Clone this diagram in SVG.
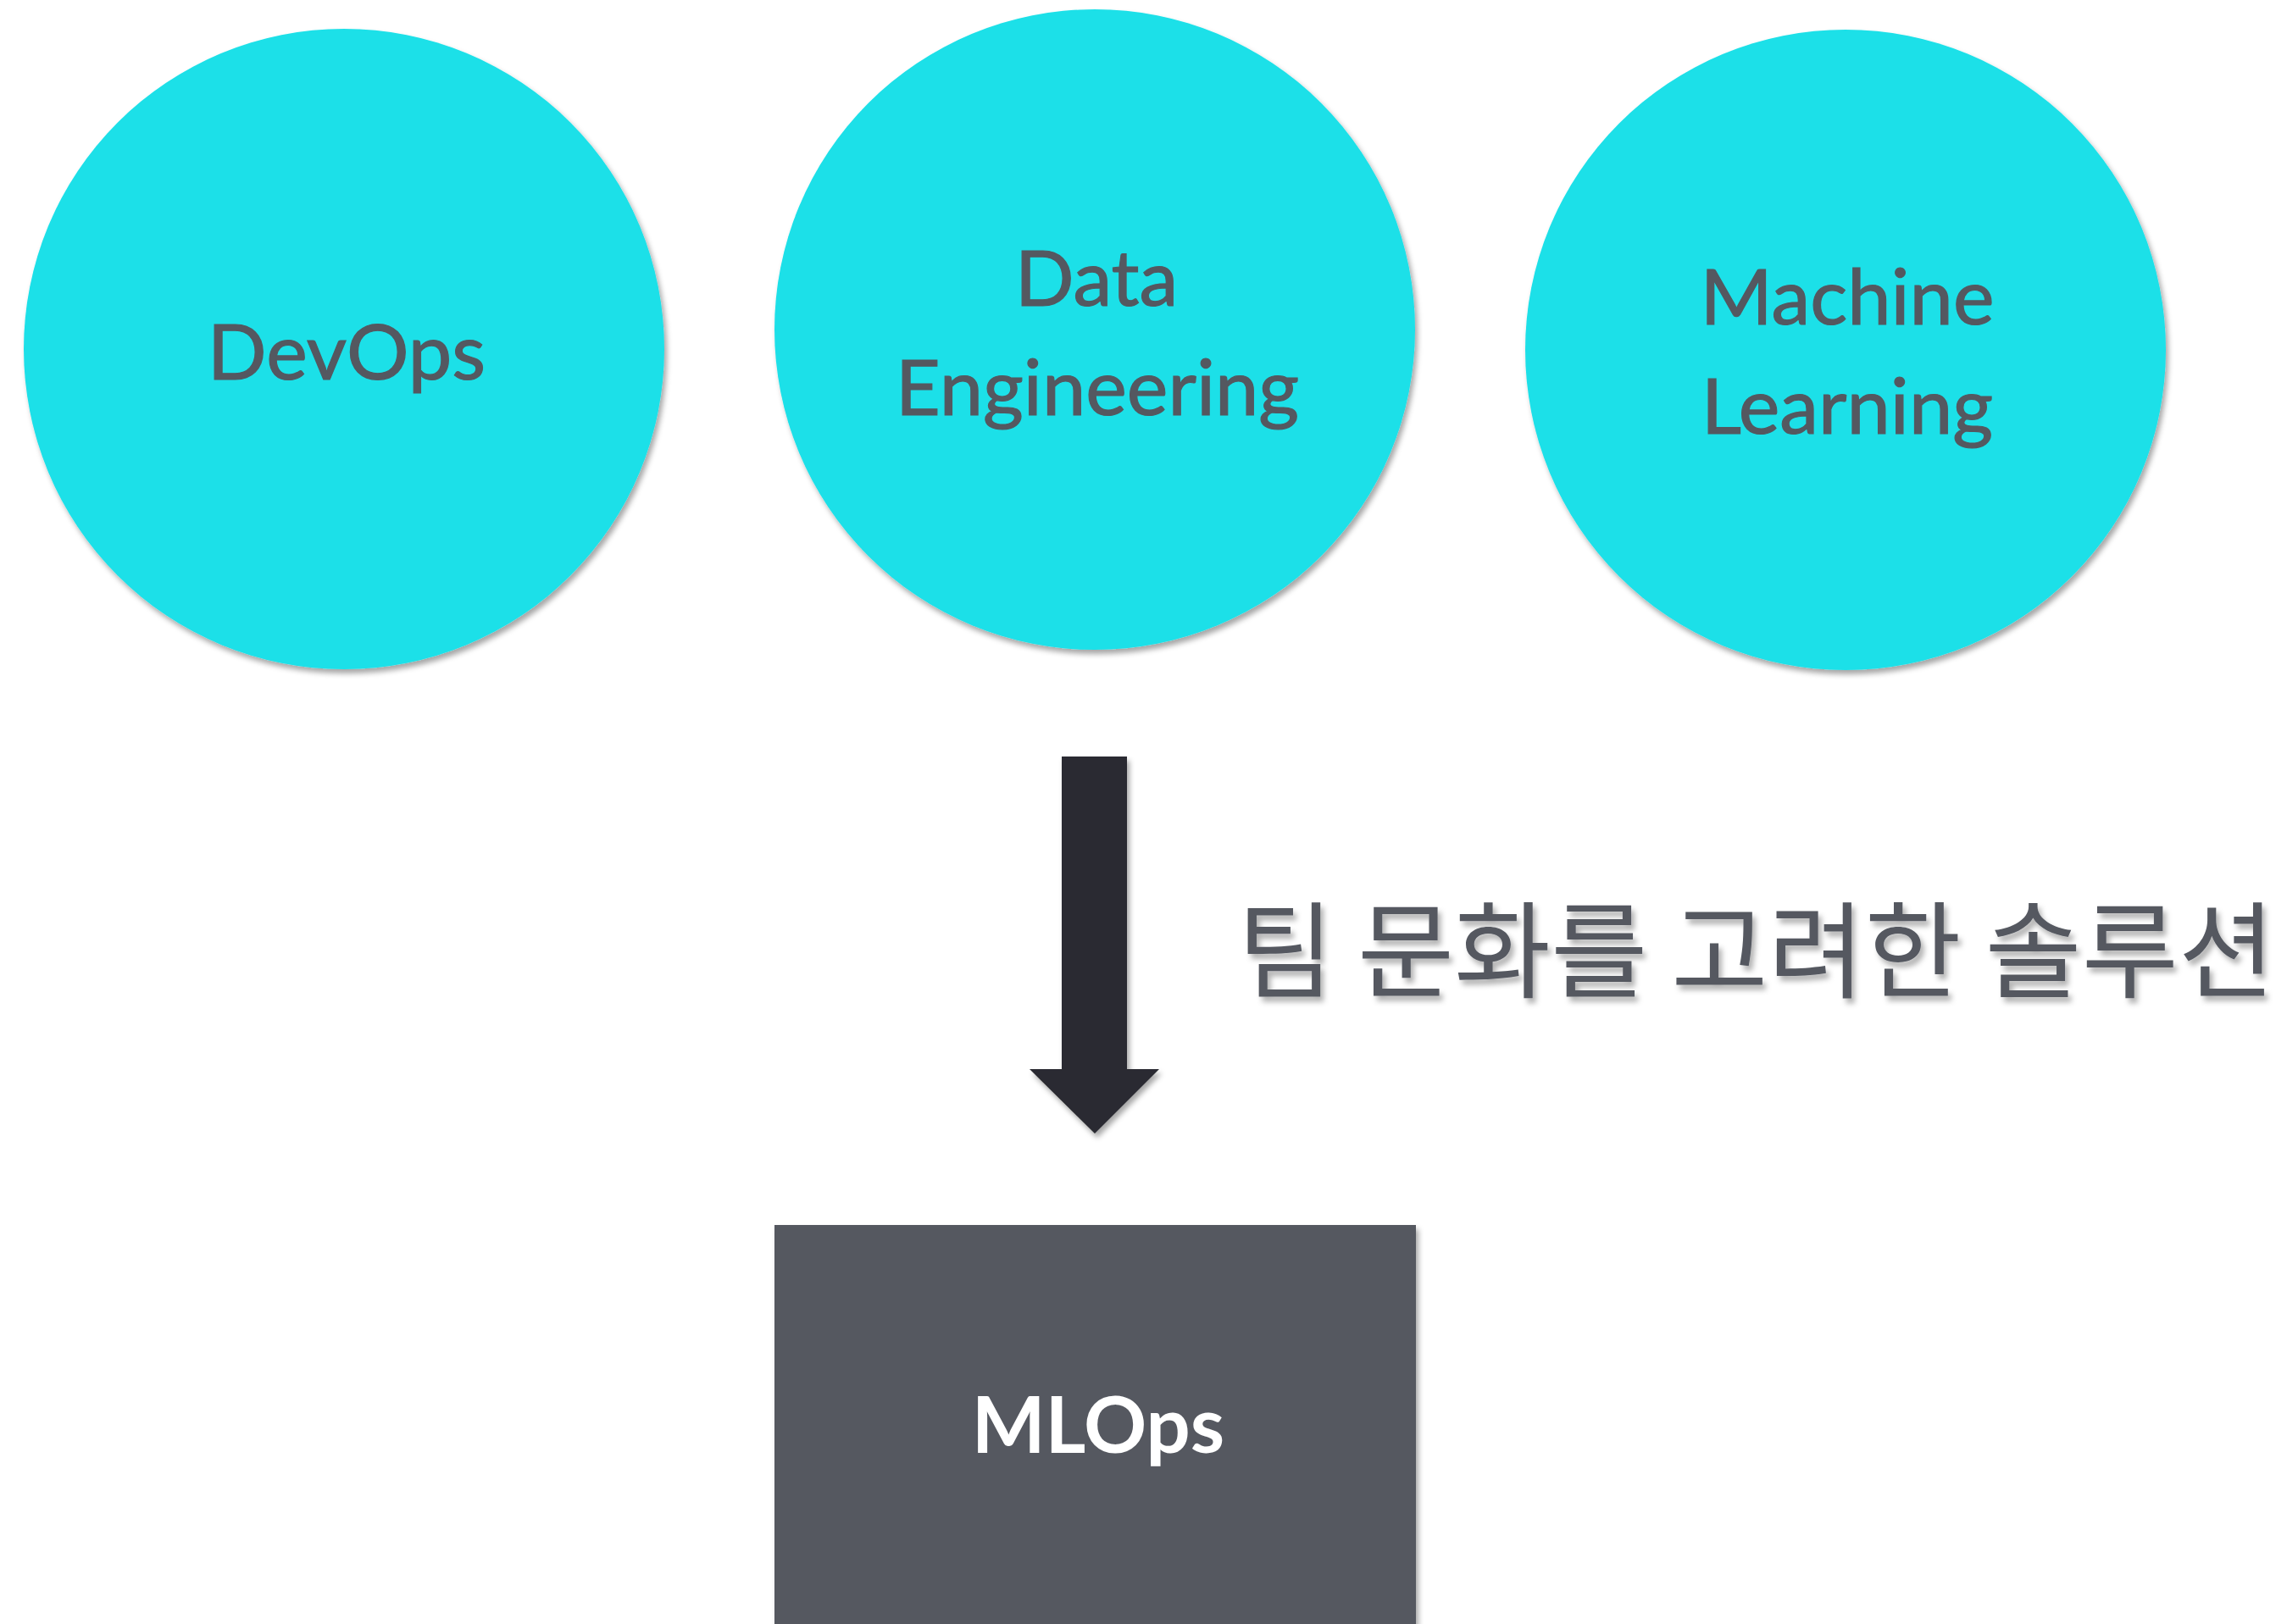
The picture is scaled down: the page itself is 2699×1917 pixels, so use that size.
<svg xmlns="http://www.w3.org/2000/svg" width="2699" height="1917" viewBox="0 0 2699 1917">
  <style>
    .disc { fill: #1DE0E8; filter: url(#soft); }
    .label { font-family: Lato, "Open Sans", "Liberation Sans", sans-serif; font-size: 92px; fill: #545860; stroke: #545860; stroke-width: 1.2px; text-anchor: middle; }
    .box { fill: #555860; filter: url(#soft); }
    .boxlabel { font-family: Lato, "Open Sans", "Liberation Sans", sans-serif; font-size: 92px; font-weight: 700; fill: #FFFFFF; text-anchor: middle; }
    .note { font-family: "Noto Sans CJK KR", "Noto Sans", sans-serif; font-size: 124px; fill: #545860; filter: url(#textshadow); }
    .arrow { fill: #2B2C30; filter: url(#soft); }
  </style>
  <defs>
    <filter id="soft" x="-10%" y="-10%" width="120%" height="120%">
      <feDropShadow dx="3" dy="5" stdDeviation="3" flood-color="#000000" flood-opacity="0.35"/>
    </filter>
    <filter id="textshadow" x="-5%" y="-20%" width="110%" height="140%">
      <feDropShadow dx="4" dy="6" stdDeviation="3" flood-color="#000000" flood-opacity="0.3"/>
    </filter>
  </defs>
  <rect width="2699" height="1917" fill="#FFFFFF"/>

  <g id="node-devops">
    <circle class="disc" cx="406" cy="412" r="378"/>
    <text class="label" x="409" y="448">DevOps</text>
  </g>

  <g id="node-data-engineering">
    <circle class="disc" cx="1292" cy="389" r="378"/>
    <text class="label" x="1294" y="361">Data</text>
    <text class="label" x="1295" y="490">Engineering</text>
  </g>

  <g id="node-machine-learning">
    <circle class="disc" cx="2178" cy="413" r="378"/>
    <text class="label" x="2180" y="383">Machine</text>
    <text class="label" x="2180" y="512">Learning</text>
  </g>

  <g id="connectors">
    <polygon class="arrow" points="1253,893 1330,893 1330,1262 1368,1262 1292,1338 1215,1262 1253,1262"/>
  </g>

  <g id="label-solution">
    <text class="note" x="1460" y="1168" textLength="1225" lengthAdjust="spacingAndGlyphs">팀 문화를 고려한 솔루션</text>
  </g>

  <g id="node-mlops">
    <rect class="box" x="914" y="1446" width="757" height="500"/>
    <text class="boxlabel" x="1296" y="1715">MLOps</text>
  </g>
</svg>
